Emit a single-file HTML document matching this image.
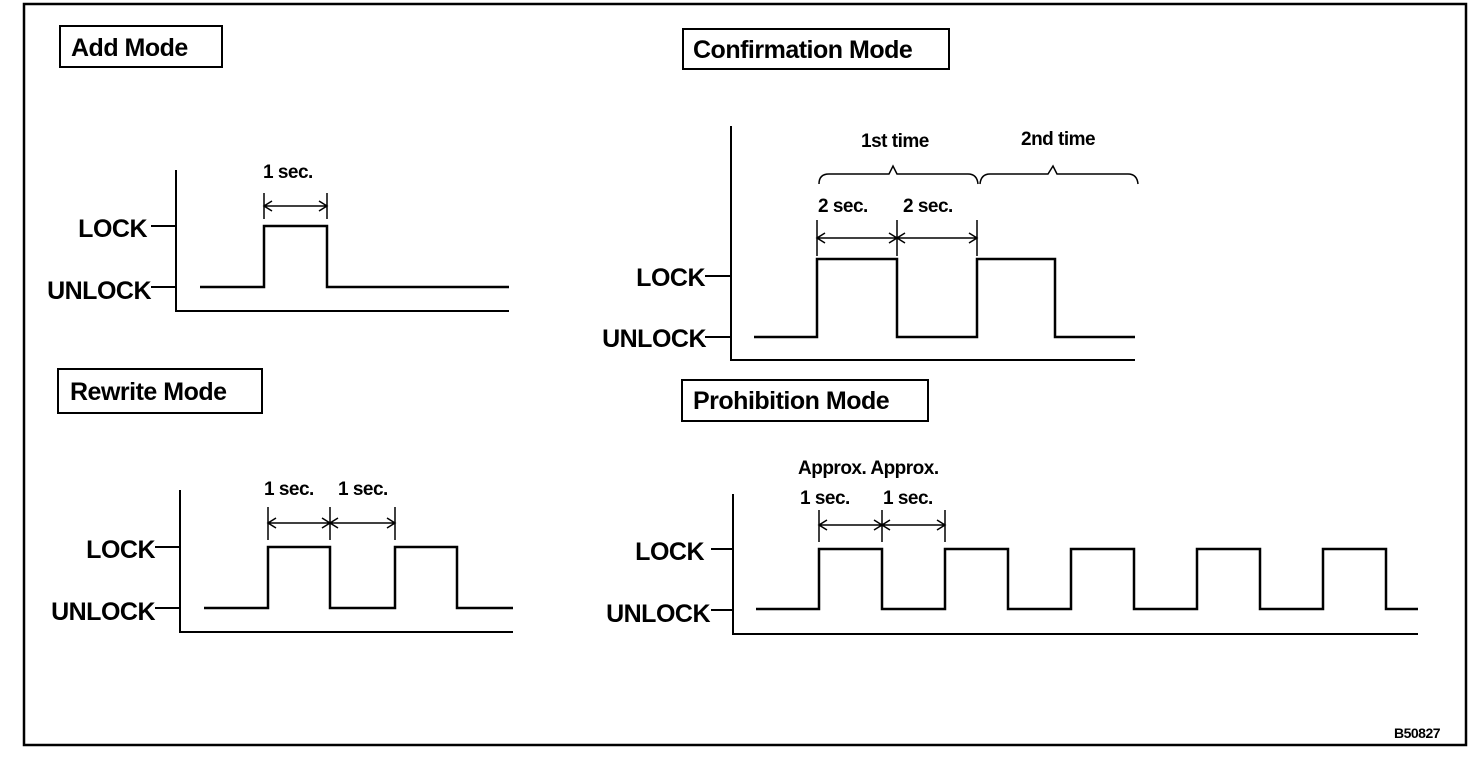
<!DOCTYPE html>
<html><head><style>
html,body{margin:0;padding:0;background:#fff;width:1472px;height:760px;overflow:hidden}
svg text{font-family:"Liberation Sans",Arial,sans-serif;fill:#000;font-weight:bold}
</style></head><body>
<svg width="1472" height="760" viewBox="0 0 1472 760" xmlns="http://www.w3.org/2000/svg">
<rect x="24" y="4" width="1442" height="741" fill="none" stroke="#000" stroke-width="2.5"/>
<g fill="none" stroke="#000" stroke-width="2">
<rect x="60" y="26" width="162" height="41"/>
<path d="M176 170V311H509M151 226H176M151 287H176"/>
<path d="M200 287H264V226H327V287H509" stroke-width="2.5"/>
<path d="M264 193V219M327 193V219M264 206H327M272 201L264 206L272 211M319 201L327 206L319 211" stroke-width="1.5"/>
<rect x="58" y="369" width="204" height="44"/>
<path d="M180 490V632H513M155 547H180M155 608H180"/>
<path d="M204 608H268V547H330V608H395V547H457V608H513" stroke-width="2.5"/>
<path d="M268 507V540M330 507V540M395 507V540M268 523H395M276 518L268 523L276 528M322 518L330 523L322 528M338 518L330 523L338 528M387 518L395 523L387 528" stroke-width="1.5"/>
<rect x="683" y="29" width="266" height="40"/>
<path d="M731 126V360H1135M705 276H731M705 337H731"/>
<path d="M754 337H817V259H897V337H977V259H1055V337H1135" stroke-width="2.5"/>
<path d="M817 220V256M897 220V256M977 220V256M817 238H977M825 233L817 238L825 243M889 233L897 238L889 243M905 233L897 238L905 243M969 233L977 238L969 243" stroke-width="1.5"/>
<path d="M819 184Q819 174 829 174H889L893 166L897 174H968Q977 174 978 184M980 184Q981 174 990 174H1048L1053 166L1057 174H1128Q1137 174 1138 184" stroke-width="1.5"/>
<rect x="682" y="380" width="246" height="41"/>
<path d="M733 494V634H1418M711 549H733M711 610H733"/>
<path d="M756 609H819V549H882V609H945V549H1008V609H1071V549H1134V609H1197V549H1260V609H1323V549H1386V609H1418" stroke-width="2.5"/>
<path d="M819 510V542M882 510V542M945 510V542M819 525H945M827 520L819 525L827 530M874 520L882 525L874 530M890 520L882 525L890 530M937 520L945 525L937 530" stroke-width="1.5"/>
</g>
<g font-size="25" letter-spacing="-0.5">
<text x="71" y="56">Add Mode</text>
<text x="693" y="58">Confirmation Mode</text>
<text x="70" y="400">Rewrite Mode</text>
<text x="693" y="409">Prohibition Mode</text>
<text x="147" y="237" text-anchor="end">LOCK</text>
<text x="151" y="299" text-anchor="end">UNLOCK</text>
<text x="155" y="558" text-anchor="end">LOCK</text>
<text x="155" y="620" text-anchor="end">UNLOCK</text>
<text x="705" y="286" text-anchor="end">LOCK</text>
<text x="706" y="347" text-anchor="end">UNLOCK</text>
<text x="704" y="560" text-anchor="end">LOCK</text>
<text x="710" y="622" text-anchor="end">UNLOCK</text>
</g>
<g font-size="19" letter-spacing="-0.5">
<text x="263" y="178">1 sec.</text>
<text x="264" y="495">1 sec.</text>
<text x="338" y="495">1 sec.</text>
<text x="861" y="147">1st time</text>
<text x="1021" y="145">2nd time</text>
<text x="818" y="212">2 sec.</text>
<text x="903" y="212">2 sec.</text>
<text x="798" y="474">Approx. Approx.</text>
<text x="800" y="504">1 sec.</text>
<text x="883" y="504">1 sec.</text>
</g>
<text x="1394" y="738" font-size="14" letter-spacing="-0.5">B50827</text>
</svg>
</body></html>
